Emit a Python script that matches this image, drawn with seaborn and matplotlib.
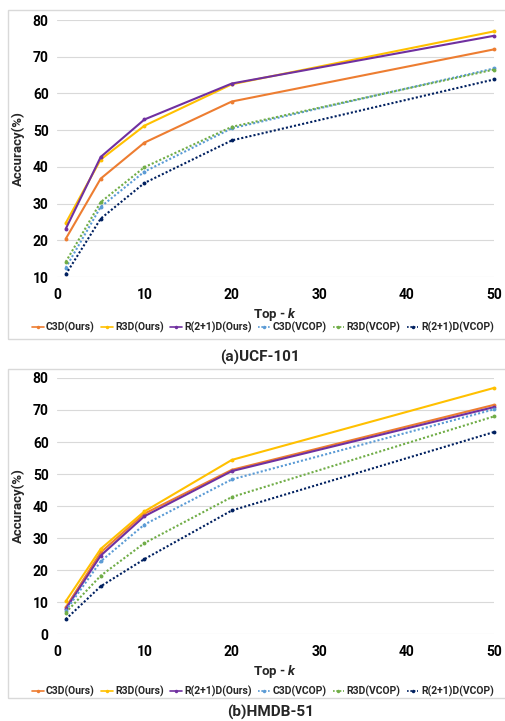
import seaborn as sns
import matplotlib.pyplot as plt
import matplotlib.patches as patches
import pandas as pd

# top-k values on the x axis
top_k = [1, 5, 10, 20, 50]

models = ["C3D(Ours)", "R3D(Ours)", "R(2+1)D(Ours)",
          "C3D(VCOP)", "R3D(VCOP)", "R(2+1)D(VCOP)"]

# (a) UCF-101 accuracy (%)
ucf_c3d_ours = [20.4, 36.8, 46.6, 57.8, 72.0]
ucf_r3d_ours = [24.7, 42.0, 51.2, 62.5, 76.9]
ucf_r21d_ours = [23.1, 42.7, 52.9, 62.7, 75.7]
ucf_c3d_vcop = [12.5, 29.1, 38.7, 50.5, 66.8]
ucf_r3d_vcop = [14.1, 30.4, 39.9, 50.9, 66.5]
ucf_r21d_vcop = [10.7, 25.9, 35.6, 47.2, 63.8]

# (b) HMDB-51 accuracy (%)
hmdb_c3d_ours = [8.3, 25.5, 37.6, 51.3, 71.6]
hmdb_r3d_ours = [10.2, 26.6, 38.3, 54.4, 76.9]
hmdb_r21d_ours = [7.8, 24.5, 36.8, 50.9, 70.9]
hmdb_c3d_vcop = [7.3, 22.7, 34.2, 48.3, 70.2]
hmdb_r3d_vcop = [6.7, 18.2, 28.4, 42.8, 68.0]
hmdb_r21d_vcop = [4.6, 14.9, 23.4, 38.6, 63.1]

colors = ["#ED7D31", "#FFC000", "#7030A0", "#5B9BD5", "#70AD47", "#002060"]
palette = dict(zip(models, colors))
dashes = {m: ("" if "Ours" in m else (1, 1)) for m in models}
markers = {m: "o" for m in models}


def make_df(series):
    rows = []
    for name, vals in zip(models, series):
        for k, v in zip(top_k, vals):
            rows.append({"k": k, "acc": v, "model": name})
    return pd.DataFrame(rows)


ucf_df = make_df([ucf_c3d_ours, ucf_r3d_ours, ucf_r21d_ours,
                  ucf_c3d_vcop, ucf_r3d_vcop, ucf_r21d_vcop])
hmdb_df = make_df([hmdb_c3d_ours, hmdb_r3d_ours, hmdb_r21d_ours,
                   hmdb_c3d_vcop, hmdb_r3d_vcop, hmdb_r21d_vcop])

sns.set_theme(style="white")
plt.rcParams["font.family"] = ["Roboto", "DejaVu Sans"]
plt.rcParams["font.weight"] = "bold"
plt.rcParams["mathtext.fontset"] = "custom"
plt.rcParams["mathtext.it"] = "Roboto:italic:bold"

W, H = 505, 721
fig = plt.figure(figsize=(W / 100, H / 100), dpi=100)


def fx(px):
    return px / W


def fy(py):
    return 1 - py / H


# panel frames
for top, bot in [(10, 339), (369, 698)]:
    fig.patches.append(patches.Rectangle((fx(8), fy(bot)), 1.0, fy(top) - fy(bot),
                                         transform=fig.transFigure, fill=False,
                                         edgecolor="#d9d9d9", linewidth=1.0))

panels = [
    (ucf_df, 20, 277, (10, 80), 327, "(a)UCF-101", 357, 0.515),
    (hmdb_df, 378, 634, (0, 80), 691, "(b)HMDB-51", 712, 0.535),
]

for df, top, bot, ylim, leg_y, caption, cap_y, cap_x in panels:
    ax = fig.add_axes([fx(57), fy(bot), fx(494) - fx(57), fy(top) - fy(bot)])
    sns.lineplot(data=df, x="k", y="acc", hue="model", style="model",
                 palette=palette, dashes=dashes, markers=markers,
                 hue_order=models, style_order=models,
                 markersize=2.8, markeredgewidth=0, linewidth=1.5,
                 clip_on=False, ax=ax)
    for line in ax.lines:
        if "VCOP" in line.get_label():
            line.set_linewidth(1.2)
    ax.set_xlim(0, 50)
    ax.set_ylim(*ylim)
    ax.set_xticks(range(0, 51, 10))
    ax.set_yticks(range(ylim[0], 81, 10))
    ax.yaxis.grid(True, color="#d9d9d9", linewidth=0.8)
    ax.xaxis.grid(False)
    for s in ax.spines.values():
        s.set_visible(False)
    ax.tick_params(axis="both", length=0, labelsize=10, colors="#000000")
    ax.tick_params(axis="x", pad=8)
    ax.tick_params(axis="y", pad=6)
    ax.set_xlabel("Top - $k$", fontsize=9.5, fontweight="bold", labelpad=3)
    ax.set_ylabel("Accuracy(%)", fontsize=9.5, fontweight="bold", labelpad=6)

    handles, labels = ax.get_legend_handles_labels()
    ax.get_legend().remove()
    for h in handles:
        h.set_markersize(2.5)
        h.set_linewidth(1.2)
    fig.legend(handles, labels, loc="center", ncol=6,
               bbox_to_anchor=(fx(263), fy(leg_y)), frameon=False,
               fontsize=7.5, handlelength=1.1, handletextpad=0.25,
               columnspacing=0.6, borderaxespad=0, borderpad=0)
    fig.text(cap_x, fy(cap_y), caption, ha="center", va="center",
             fontsize=11, fontweight="bold")

fig.savefig("out.png", dpi=100)
